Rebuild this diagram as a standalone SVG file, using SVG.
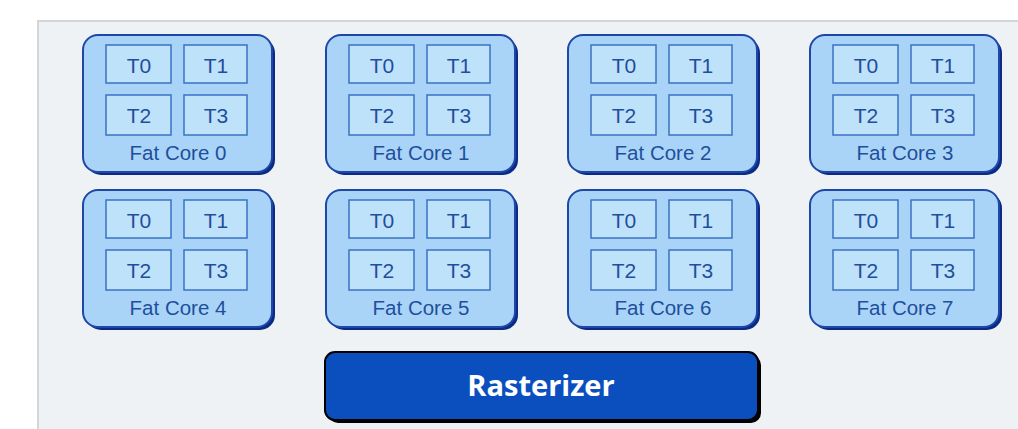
<svg xmlns="http://www.w3.org/2000/svg" width="1018" height="429" viewBox="0 0 1018 429">
  <defs>
    <style>
      .core-shadow { fill: #0b2a86; }
      .core { fill: #a9d4f8; stroke: #1d48a8; stroke-width: 2; }
      .thread { fill: #bfe2fb; stroke: #3a72c4; stroke-width: 1.5; }
      .tlabel { font-family: "Liberation Sans", Arial, sans-serif; font-size: 21px; fill: #1f4f9c; text-anchor: middle; }
      .clabel { font-family: "Liberation Sans", Arial, sans-serif; font-size: 20.5px; fill: #1f4f9c; text-anchor: middle; }
      .rlabel { font-family: "Open Sans", "Liberation Sans", sans-serif; font-size: 29px; font-weight: bold; fill: #ffffff; text-anchor: middle; }
    </style>
    <!-- one fat core with four hardware threads, drawn at origin -->
    <g id="coreShape">
      <rect class="core-shadow" x="3" y="3" width="189" height="137" rx="15"/>
      <rect class="core" x="0" y="0" width="189" height="137" rx="15"/>
      <rect class="thread" x="23" y="10" width="65" height="38"/>
      <rect class="thread" x="101" y="10" width="63" height="38"/>
      <rect class="thread" x="23" y="60" width="65" height="40"/>
      <rect class="thread" x="101" y="60" width="63" height="40"/>
      <text class="tlabel" x="56" y="38">T0</text>
      <text class="tlabel" x="133" y="38">T1</text>
      <text class="tlabel" x="56" y="88">T2</text>
      <text class="tlabel" x="133" y="88">T3</text>
    </g>
  </defs>

  <!-- background panel -->
  <rect x="0" y="0" width="1018" height="429" fill="#ffffff"/>
  <rect x="38" y="21" width="990" height="420" fill="#eef2f4" stroke="#d2d6d8" stroke-width="2"/>

  <g id="core0"><use href="#coreShape" x="83" y="35"/><text class="clabel" x="178" y="160">Fat Core 0</text></g>
  <g id="core1"><use href="#coreShape" x="326" y="35"/><text class="clabel" x="421" y="160">Fat Core 1</text></g>
  <g id="core2"><use href="#coreShape" x="568" y="35"/><text class="clabel" x="663" y="160">Fat Core 2</text></g>
  <g id="core3"><use href="#coreShape" x="810" y="35"/><text class="clabel" x="905" y="160">Fat Core 3</text></g>
  <g id="core4"><use href="#coreShape" x="83" y="190"/><text class="clabel" x="178" y="315">Fat Core 4</text></g>
  <g id="core5"><use href="#coreShape" x="326" y="190"/><text class="clabel" x="421" y="315">Fat Core 5</text></g>
  <g id="core6"><use href="#coreShape" x="568" y="190"/><text class="clabel" x="663" y="315">Fat Core 6</text></g>
  <g id="core7"><use href="#coreShape" x="810" y="190"/><text class="clabel" x="905" y="315">Fat Core 7</text></g>

  <g id="rasterizer">
    <rect x="328" y="355" width="433" height="68" rx="10" fill="#000000"/>
    <rect x="325" y="352" width="433" height="68" rx="10" fill="#0b4fbf" stroke="#000000" stroke-width="2"/>
    <text class="rlabel" x="541" y="396">Rasterizer</text>
  </g>

  <g id="connectors"></g>
</svg>
